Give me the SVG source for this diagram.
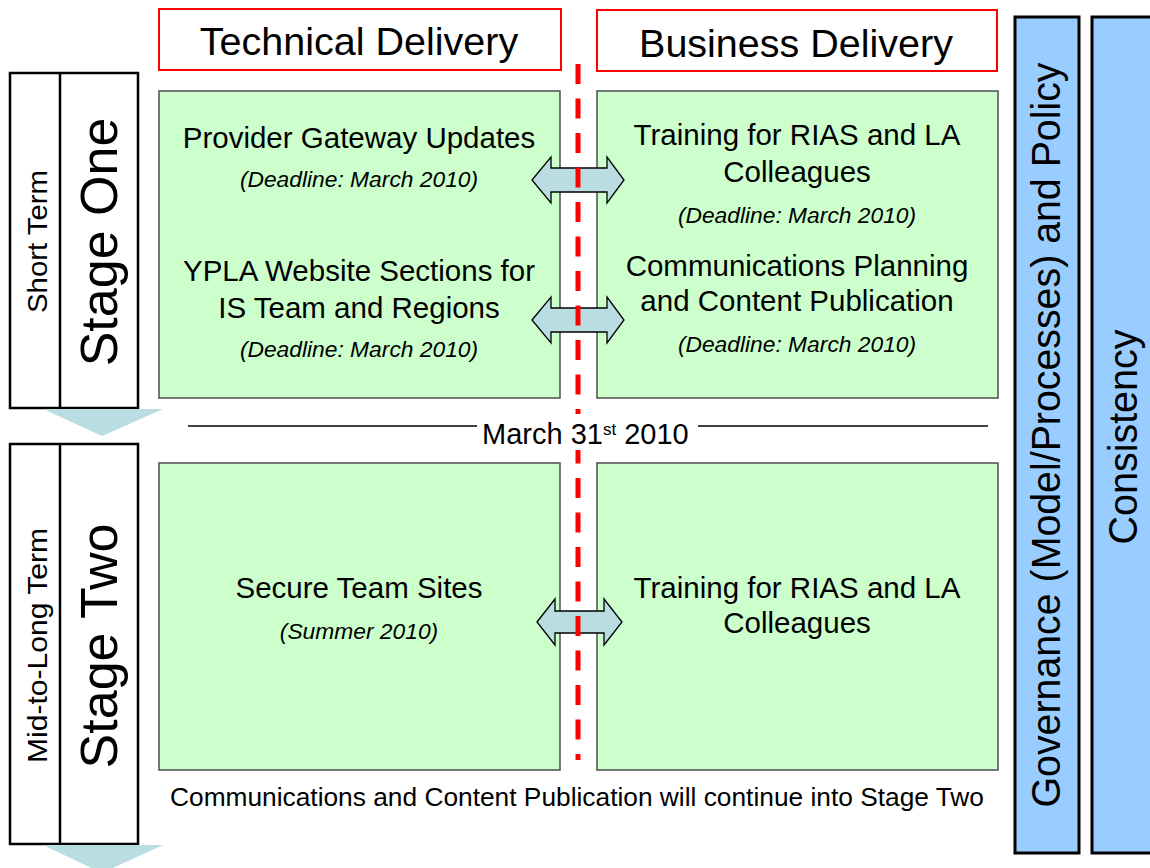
<svg xmlns="http://www.w3.org/2000/svg" width="1150" height="868" viewBox="0 0 1150 868">
<style>
text{font-family:"Liberation Sans",Arial,sans-serif;fill:#000}
.hdr{fill:#fff;stroke:#ff0000;stroke-width:2}
.box{fill:#ccffcc;stroke:#4d4d4d;stroke-width:1.5}
.stage{fill:#fff;stroke:#000;stroke-width:2.5}
.bar{fill:#99ccff;stroke:#000;stroke-width:3}
.arr{fill:#b9dde0;stroke:#000;stroke-width:1.3;stroke-linejoin:miter}
.tri{fill:#b9dde0}
.t29{font-size:29.5px;text-anchor:middle}
.dl{font-size:22.8px;font-style:italic;text-anchor:middle}
</style>
<rect width="1150" height="868" fill="#fff"/>
<g id="stage-one">
<rect class="stage" x="10" y="73" width="128" height="335"/>
<line x1="60" y1="73" x2="60" y2="408" stroke="#000" stroke-width="2.5"/>
<polygon class="tri" points="43,409 163,409 102,436"/>
<text transform="translate(47,241.5) rotate(-90)" font-size="28" text-anchor="middle" textLength="143" lengthAdjust="spacingAndGlyphs">Short Term</text>
<text transform="translate(117,242) rotate(-90)" font-size="52" text-anchor="middle">Stage One</text>
</g>
<g id="stage-two">
<rect class="stage" x="10" y="444" width="128" height="400"/>
<line x1="60" y1="444" x2="60" y2="844" stroke="#000" stroke-width="2.5"/>
<polygon class="tri" points="43,845 163,845 102,873"/>
<text transform="translate(47,645.5) rotate(-90)" font-size="28" text-anchor="middle" textLength="235" lengthAdjust="spacingAndGlyphs">Mid-to-Long Term</text>
<text transform="translate(117,646) rotate(-90)" font-size="52" text-anchor="middle">Stage Two</text>
</g>
<g id="header-technical">
<rect class="hdr" x="159" y="9" width="402" height="61"/>
<text x="359" y="55" font-size="39.5" text-anchor="middle">Technical Delivery</text>
</g>
<g id="header-business">
<rect class="hdr" x="597" y="10" width="400" height="61"/>
<text x="796" y="57" font-size="39.5" text-anchor="middle">Business Delivery</text>
</g>
<g id="box-tech-1">
<rect class="box" x="159" y="91" width="401" height="307"/>
<text class="t29" x="359" y="148">Provider Gateway Updates</text>
<text class="dl" x="359" y="187">(Deadline: March 2010)</text>
<text class="t29" x="359" y="281">YPLA Website Sections for</text>
<text class="t29" x="359" y="318">IS Team and Regions</text>
<text class="dl" x="359" y="357">(Deadline: March 2010)</text>
</g>
<g id="box-bus-1">
<rect class="box" x="597" y="91" width="401" height="307"/>
<text class="t29" x="797" y="145">Training for RIAS and LA</text>
<text class="t29" x="797" y="182">Colleagues</text>
<text class="dl" x="797" y="223">(Deadline: March 2010)</text>
<text class="t29" x="797" y="276">Communications Planning</text>
<text class="t29" x="797" y="311">and Content Publication</text>
<text class="dl" x="797" y="352">(Deadline: March 2010)</text>
</g>
<g id="box-tech-2">
<rect class="box" x="159" y="463" width="401" height="307"/>
<text class="t29" x="359" y="598">Secure Team Sites</text>
<text class="dl" x="359" y="639">(Summer 2010)</text>
</g>
<g id="box-bus-2">
<rect class="box" x="597" y="463" width="401" height="307"/>
<text class="t29" x="797" y="598">Training for RIAS and LA</text>
<text class="t29" x="797" y="633">Colleagues</text>
</g>
<g id="governance">
<rect class="bar" x="1015" y="17" width="64" height="836"/>
<text transform="translate(1060,435) rotate(-90)" font-size="40" text-anchor="middle" textLength="745" lengthAdjust="spacingAndGlyphs">Governance (Model/Processes) and Policy</text>
</g>
<g id="consistency">
<rect class="bar" x="1092" y="17" width="64" height="836"/>
<text transform="translate(1137,437) rotate(-90)" font-size="40" text-anchor="middle" textLength="215" lengthAdjust="spacingAndGlyphs">Consistency</text>
</g>
<g id="connectors">
<path class="arr" d="M532,180 L551,157 L551,168 L607,168 L607,157 L624,180 L607,203 L607,192 L551,192 L551,203 Z"/>
<path class="arr" d="M532,320 L551,297 L551,308 L607,308 L607,297 L624,320 L607,343 L607,332 L551,332 L551,343 Z"/>
<path class="arr" d="M537,622 L555,599 L555,611 L604,611 L604,599 L622,622 L604,645 L604,633 L555,633 L555,645 Z"/>
<line x1="578" y1="64" x2="578" y2="760" stroke="#ff0000" stroke-width="5" stroke-dasharray="20 14.5"/>
<line x1="188" y1="426" x2="988" y2="426" stroke="#000" stroke-width="1.5"/>
</g>
<g id="milestone">
<rect x="477" y="414" width="221" height="36" fill="#fff"/>
<text x="482" y="444" font-size="29">March 31<tspan font-size="17" dy="-9">st</tspan><tspan dy="9"> 2010</tspan></text>
</g>
<g id="footnote">
<text x="577" y="806" font-size="26" text-anchor="middle" textLength="814" lengthAdjust="spacingAndGlyphs">Communications and Content Publication will continue into Stage Two</text>
</g>
</svg>
